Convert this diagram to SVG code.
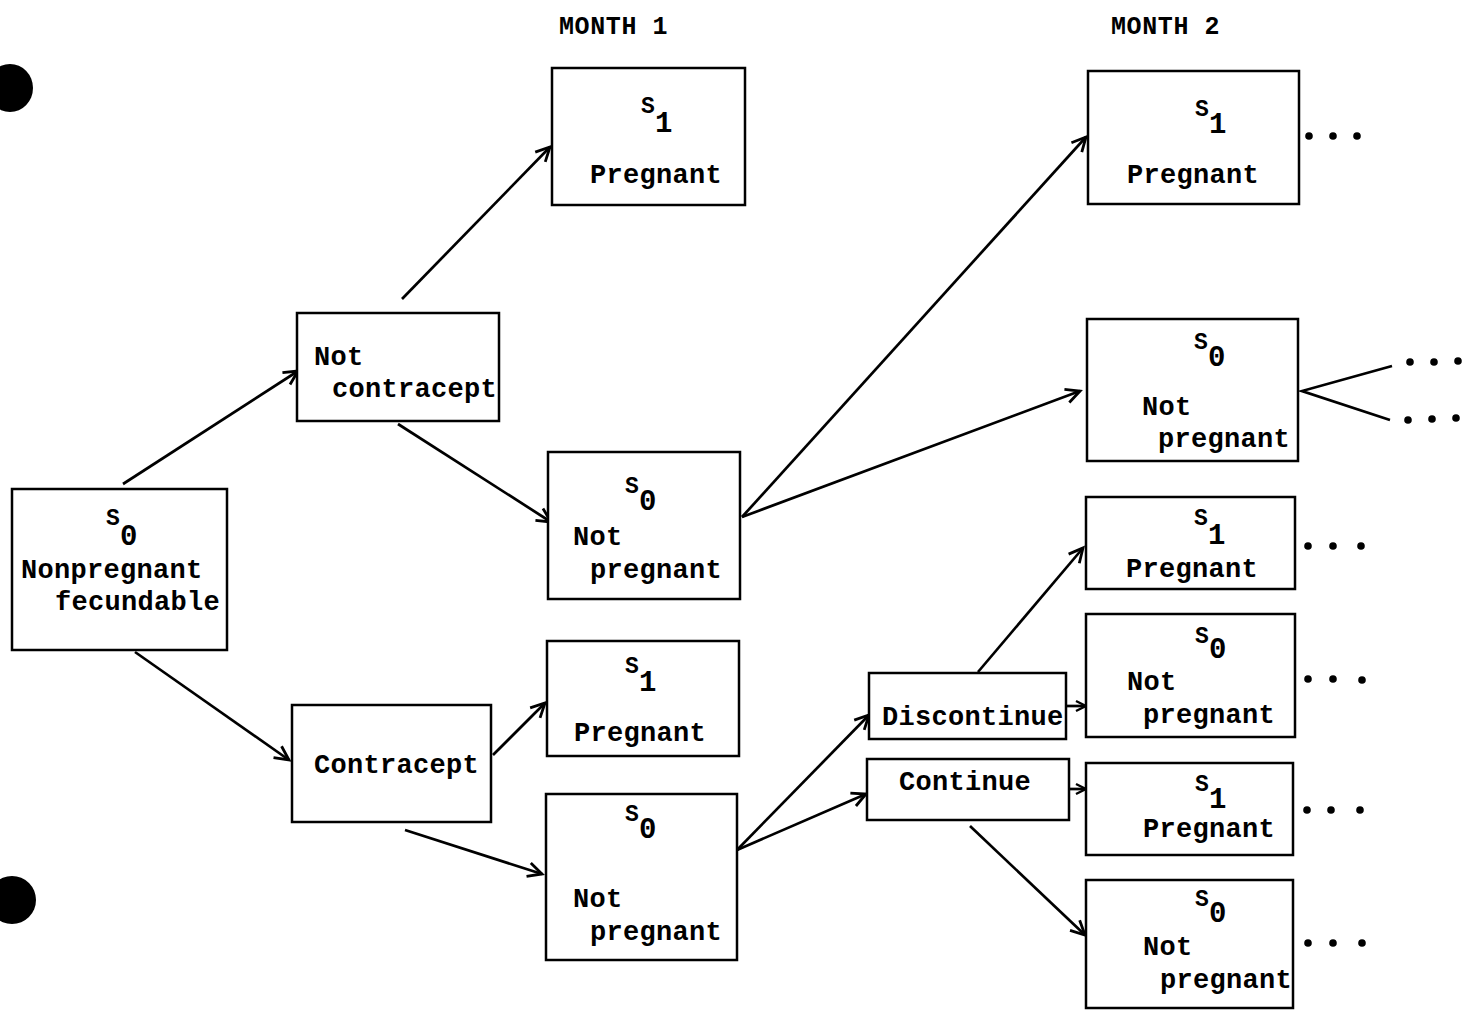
<svg xmlns="http://www.w3.org/2000/svg" width="1466" height="1011" viewBox="0 0 1466 1011">
<defs>
<marker id="arr" markerUnits="userSpaceOnUse" markerWidth="20" markerHeight="20" refX="16" refY="8" orient="auto" viewBox="0 0 20 16">
<path d="M2,1 L16,8 L2,15" fill="none" stroke="#000" stroke-width="2.8" stroke-linejoin="miter"/>
</marker>
<marker id="arrs" markerUnits="userSpaceOnUse" markerWidth="14" markerHeight="14" refX="12" refY="6" orient="auto" viewBox="0 0 14 12">
<path d="M2,1 L12,6 L2,11" fill="none" stroke="#000" stroke-width="2.4"/>
</marker>
</defs>
<style>
.box{fill:#fff;stroke:#000;stroke-width:2.5}
.t{font-family:"Liberation Mono","DejaVu Sans Mono",monospace;font-weight:bold;font-size:27px;letter-spacing:0.3px;fill:#000}
.s{font-family:"Liberation Mono","DejaVu Sans Mono",monospace;font-weight:bold;font-size:23px;fill:#000}
.d{font-size:29px}
.h{font-family:"Liberation Mono","DejaVu Sans Mono",monospace;font-weight:bold;font-size:25px;letter-spacing:0.6px;fill:#000}
.c{fill:none;stroke:#000;stroke-width:2.7}
.dot{fill:#000}
</style>
<rect width="1466" height="1011" fill="#fff"/>
<ellipse class="dot" cx="10" cy="88" rx="23" ry="24"/>
<ellipse class="dot" cx="12" cy="900" rx="24" ry="24"/>
<text class="h" x="559" y="34">MONTH 1</text>
<text class="h" x="1111" y="34">MONTH 2</text>

<g id="connectors">
<line class="c" x1="123" y1="484" x2="298" y2="371" marker-end="url(#arr)"/>
<line class="c" x1="402" y1="299" x2="550" y2="147" marker-end="url(#arr)"/>
<line class="c" x1="398" y1="424" x2="551" y2="522" marker-end="url(#arr)"/>
<line class="c" x1="135" y1="652" x2="289" y2="760" marker-end="url(#arr)"/>
<line class="c" x1="493" y1="755" x2="545" y2="703" marker-end="url(#arr)"/>
<line class="c" x1="405" y1="830" x2="542" y2="874" marker-end="url(#arr)"/>
<line class="c" x1="742" y1="517" x2="1086" y2="137" marker-end="url(#arr)"/>
<line class="c" x1="742" y1="517" x2="1080" y2="391" marker-end="url(#arr)"/>
<line class="c" x1="737" y1="850" x2="869" y2="715" marker-end="url(#arr)"/>
<line class="c" x1="737" y1="850" x2="866" y2="794" marker-end="url(#arr)"/>
<line class="c" x1="978" y1="672" x2="1083" y2="548" marker-end="url(#arr)"/>
<line class="c" x1="1067" y1="706" x2="1086" y2="706" marker-end="url(#arrs)"/>
<line class="c" x1="1070" y1="789" x2="1086" y2="789" marker-end="url(#arrs)"/>
<line class="c" x1="970" y1="826" x2="1085" y2="935" marker-end="url(#arr)"/>
<polyline class="c" points="1392,366 1302,391 1390,420"/>
</g>

<g id="n0">
<rect class="box" x="12" y="489" width="215" height="161"/>
<text class="s" x="106" y="525">S<tspan class="d" x="120" y="545">0</tspan></text>
<text class="t" x="21" y="578">Nonpregnant</text>
<text class="t" x="55" y="610">fecundable</text>
</g>
<g id="notcontracept">
<rect class="box" x="297" y="313" width="202" height="108"/>
<text class="t" x="314" y="365">Not</text>
<text class="t" x="332" y="397">contracept</text>
</g>
<g id="contracept">
<rect class="box" x="292" y="705" width="199" height="117"/>
<text class="t" x="314" y="773">Contracept</text>
</g>
<g id="m1-preg-a">
<rect class="box" x="552" y="68" width="193" height="137"/>
<text class="s" x="641" y="113">S<tspan class="d" x="655" y="132">1</tspan></text>
<text class="t" x="590" y="183">Pregnant</text>
</g>
<g id="m1-notpreg-a">
<rect class="box" x="548" y="452" width="192" height="147"/>
<text class="s" x="625" y="493">S<tspan class="d" x="639" y="510">0</tspan></text>
<text class="t" x="573" y="545">Not</text>
<text class="t" x="590" y="578">pregnant</text>
</g>
<g id="m1-preg-b">
<rect class="box" x="547" y="641" width="192" height="115"/>
<text class="s" x="625" y="673">S<tspan class="d" x="639" y="691">1</tspan></text>
<text class="t" x="574" y="741">Pregnant</text>
</g>
<g id="m1-notpreg-b">
<rect class="box" x="546" y="794" width="191" height="166"/>
<text class="s" x="625" y="821">S<tspan class="d" x="639" y="838">0</tspan></text>
<text class="t" x="573" y="907">Not</text>
<text class="t" x="590" y="940">pregnant</text>
</g>
<g id="discontinue">
<rect class="box" x="869" y="673" width="197" height="66"/>
<text class="t" x="882" y="725">Discontinue</text>
</g>
<g id="continue">
<rect class="box" x="867" y="759" width="202" height="61"/>
<text class="t" x="899" y="790">Continue</text>
</g>
<g id="m2-preg-a">
<rect class="box" x="1088" y="71" width="211" height="133"/>
<text class="s" x="1195" y="116">S<tspan class="d" x="1209" y="133">1</tspan></text>
<text class="t" x="1127" y="183">Pregnant</text>
</g>
<g id="m2-notpreg-a">
<rect class="box" x="1087" y="319" width="211" height="142"/>
<text class="s" x="1194" y="349">S<tspan class="d" x="1208" y="366">0</tspan></text>
<text class="t" x="1142" y="415">Not</text>
<text class="t" x="1158" y="447">pregnant</text>
</g>
<g id="m2-preg-b">
<rect class="box" x="1086" y="497" width="209" height="92"/>
<text class="s" x="1194" y="525">S<tspan class="d" x="1208" y="544">1</tspan></text>
<text class="t" x="1126" y="577">Pregnant</text>
</g>
<g id="m2-notpreg-b">
<rect class="box" x="1086" y="614" width="209" height="123"/>
<text class="s" x="1195" y="643">S<tspan class="d" x="1209" y="658">0</tspan></text>
<text class="t" x="1127" y="690">Not</text>
<text class="t" x="1143" y="723">pregnant</text>
</g>
<g id="m2-preg-c">
<rect class="box" x="1086" y="763" width="207" height="92"/>
<text class="s" x="1195" y="791">S<tspan class="d" x="1209" y="808">1</tspan></text>
<text class="t" x="1143" y="837">Pregnant</text>
</g>
<g id="m2-notpreg-c">
<rect class="box" x="1086" y="880" width="207" height="128"/>
<text class="s" x="1195" y="906">S<tspan class="d" x="1209" y="922">0</tspan></text>
<text class="t" x="1143" y="955">Not</text>
<text class="t" x="1160" y="988">pregnant</text>
</g>

<g id="ellipses">
<circle class="dot" cx="1309" cy="136" r="3.8"/><circle class="dot" cx="1333" cy="136" r="3.8"/><circle class="dot" cx="1357" cy="136" r="3.8"/>
<circle class="dot" cx="1410" cy="362" r="3.8"/><circle class="dot" cx="1434" cy="362" r="3.8"/><circle class="dot" cx="1458" cy="361" r="3.8"/>
<circle class="dot" cx="1408" cy="420" r="3.8"/><circle class="dot" cx="1432" cy="419" r="3.8"/><circle class="dot" cx="1456" cy="418" r="3.8"/>
<circle class="dot" cx="1308" cy="546" r="3.8"/><circle class="dot" cx="1333" cy="546" r="3.8"/><circle class="dot" cx="1361" cy="546" r="3.8"/>
<circle class="dot" cx="1308" cy="679" r="3.8"/><circle class="dot" cx="1333" cy="679" r="3.8"/><circle class="dot" cx="1362" cy="680" r="3.8"/>
<circle class="dot" cx="1307" cy="810" r="3.8"/><circle class="dot" cx="1331" cy="810" r="3.8"/><circle class="dot" cx="1360" cy="810" r="3.8"/>
<circle class="dot" cx="1308" cy="943" r="3.8"/><circle class="dot" cx="1333" cy="943" r="3.8"/><circle class="dot" cx="1362" cy="943" r="3.8"/>
</g>
</svg>
